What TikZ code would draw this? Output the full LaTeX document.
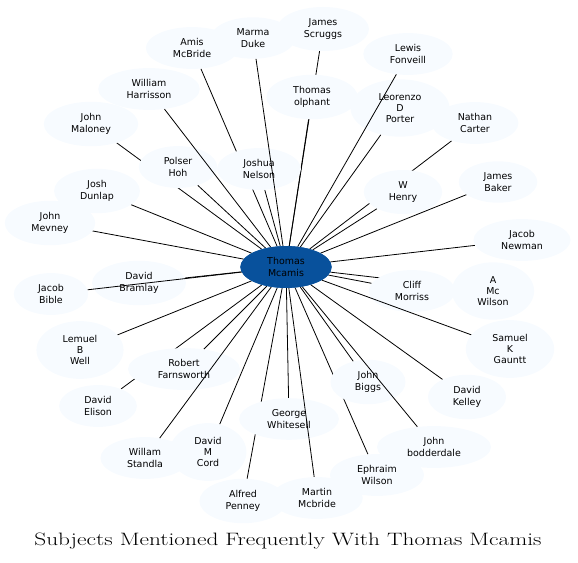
\documentclass[tikz,border=0pt]{standalone}
\usepackage{fontspec}
\newfontfamily\dejavu{DejaVu Sans}
\usetikzlibrary{shapes.geometric,backgrounds}

\definecolor{blueslight}{HTML}{F7FBFF}
\definecolor{bluesdark}{HTML}{08519C}

\tikzset{
  subj/.style={ellipse, fill=blueslight, inner xsep=13.5bp, inner ysep=5.5bp, align=center,
    font=\dejavu\fontsize{9.5}{11.3}\selectfont},
  hub/.style={subj, fill=bluesdark},
  link/.style={line width=0.8bp}
}

\begin{document}
\begin{tikzpicture}[x=1bp, y=-1bp]
        \useasboundingbox (0,0) rectangle (578,563);

        % people around the hub
        \node[subj] (ambr) at (192,48) {Amis\\McBride};
        \node[subj] (mdu) at (253,38) {Marma\\Duke};
        \node[subj] (jsc) at (323,29) {James\\Scruggs};
        \node[subj] (lfo) at (408,54) {Lewis\\Fonveill};
        \node[subj] (whar) at (149,89) {William\\Harrisson};
        \node[subj] (tol) at (312,97) {Thomas\\olphant};
        \node[subj] (ldp) at (400,108) {Leorenzo\\D\\Porter};
        \node[subj] (nca) at (475,123) {Nathan\\Carter};
        \node[subj] (jma) at (91,124) {John\\Maloney};
        \node[subj] (pho) at (178,167) {Polser\\Hoh};
        \node[subj] (jne) at (259,169) {Joshua\\Nelson};
        \node[subj] (jba) at (498,182) {James\\Baker};
        \node[subj] (wne) at (403,192) {W\\Henry};
        \node[subj] (jdu) at (97,191) {Josh\\Dunlap};
        \node[subj] (jme) at (50,223) {John\\Mevney};
        \node[subj] (jnw) at (522,240) {Jacob\\Newman};
        \node[subj] (jbi) at (51,294) {Jacob\\Bible};
        \node[subj] (dbr) at (139,283) {David\\Bramlay};
        \node[subj] (amw) at (493,291) {A\\Mc\\Wilson};
        \node[subj] (cmo) at (412,291) {Cliff\\Morriss};
        \node[subj] (lbw) at (80,350) {Lemuel\\B\\Well};
        \node[subj] (del) at (98,406) {David\\Elison};
        \node[subj] (rfa) at (184,369) {Robert\\Farnsworth};
        \node[subj] (skg) at (510,349) {Samuel\\K\\Gauntt};
        \node[subj] (dke) at (467,397) {David\\Kelley};
        \node[subj] (ewi) at (377,475) {Ephraim\\Wilson};
        \node[subj] (jbg) at (368,382) {John\\Biggs};
        \node[subj] (jbo) at (434,447) {John\\bodderdale};
        \node[subj] (ape) at (243,501) {Alfred\\Penney};
        \node[subj] (gwh) at (289,419) {George\\Whitesell};
        \node[subj] (wst) at (145,458) {Willam\\Standla};
        \node[subj] (dmc) at (208,452) {David\\M\\Cord};
        \node[subj] (mmc) at (317,498) {Martin\\Mcbride};

        \node[hub] (tmc) at (286,267) {Thomas\\Mcamis};

        % links hidden under the ellipses
        \begin{scope}[on background layer]
        \foreach \p in {ambr,jsc,tol,ldp,nca,jma,pho,jne,jba,wne,jdu,jme,jnw,dbr,
                        amw,cmo,lbw,del,rfa,dke,ewi,jbg,ape,gwh,dmc}
            \draw[link] (tmc) -- (\p);
        \end{scope}

        % links drawn over the ellipses
        \foreach \p in {mdu,lfo,whar,jbi,wst,mmc,jbo,skg}
            \draw[link] (tmc) -- (\p);
        \node[hub] at (tmc) {Thomas\\Mcamis};

        \node (title) at (288,541) {\scalebox{1.3}[1]{\fontsize{18}{20}\selectfont Subjects Mentioned Frequently With Thomas Mcamis}};
\end{tikzpicture}
\end{document}
